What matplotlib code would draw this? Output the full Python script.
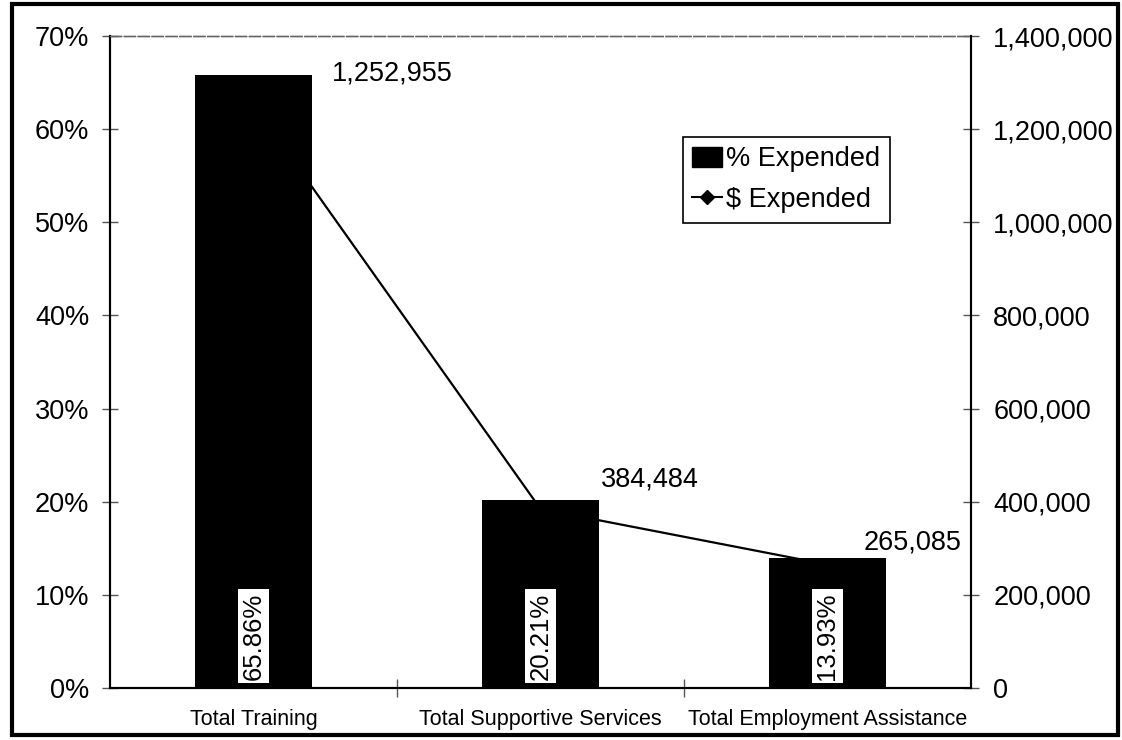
import matplotlib.pyplot as plt
import numpy as np
from matplotlib.font_manager import fontManager
from matplotlib.lines import Line2D
from matplotlib.patches import Patch, Rectangle
from matplotlib.ticker import FuncFormatter

# data
categories = ['Total Training', 'Total Supportive Services', 'Total Employment Assistance']
pct_expended = [65.86, 20.21, 13.93]
dollar_expended = [1252955, 384484, 265085]
pct_ticks = [0, 10, 20, 30, 40, 50, 60, 70]
dollar_ticks = [0, 200000, 400000, 600000, 800000, 1000000, 1200000, 1400000]

# label offsets (pixels) for the $ labels
label_offsets = [(78, 31), (60, 29), (36, 22)]

plt.rcParams['font.family'] = ['Liberation Sans', 'DejaVu Sans']
names = {f.name for f in fontManager.ttflist}
if 'Liberation Sans Narrow' in names:
    cat_font = dict(family=['Liberation Sans Narrow', 'Liberation Sans'], size=18)
else:
    cat_font = dict(family=['Liberation Sans', 'DejaVu Sans'], size=15.5)

W, H = 1122, 740
fig = plt.figure(figsize=(W / 100, H / 100), dpi=100)

# outer frame of the scanned figure
fig.patches.append(Rectangle((12 / W, 1 - 735 / H), (1118 - 12) / W, (735 - 4) / H,
                             transform=fig.transFigure, fill=False, edgecolor='black',
                             linewidth=3))

left, right, top, bottom = 110, 971, 36, 688
ax = fig.add_axes([left / W, 1 - bottom / H, (right - left) / W, (bottom - top) / H])
ax2 = ax.twinx()

x = np.arange(len(categories))

# line sits behind the bars
ax2.plot(x, dollar_expended, color='black', linewidth=1.6, marker='D', markersize=6, zorder=1)
ax.set_zorder(ax2.get_zorder() + 1)
ax.patch.set_visible(False)

ax.bar(x, pct_expended, width=0.41, color='black', zorder=2)

for xi, p in zip(x, pct_expended):
    ax.text(xi, 0.9, f'{p:.2f}%', rotation=90, ha='center', va='bottom', fontsize=18.5,
            color='black', zorder=3,
            bbox=dict(boxstyle='square,pad=0.12', facecolor='white', edgecolor='none'))

for xi, d, (dx, dy) in zip(x, dollar_expended, label_offsets):
    ax2.annotate(f'{d:,.0f}', (xi, d), xytext=(dx, dy), textcoords='offset pixels',
                 ha='left', va='center', fontsize=19.5)

ax.set_xlim(-0.5, len(categories) - 0.5)
ax.set_ylim(0, 70)
ax2.set_ylim(0, 1400000)

ax.set_yticks(pct_ticks)
ax.yaxis.set_major_formatter(FuncFormatter(lambda v, _: f'{v:.0f}%'))
ax2.set_yticks(dollar_ticks)
ax2.yaxis.set_major_formatter(FuncFormatter(lambda v, _: f'{v:,.0f}'))

ax.set_xticks(x)
ax.set_xticklabels(categories, **cat_font)
ax.set_xticks([0.5, 1.5], minor=True)
ax.tick_params(axis='x', which='major', length=0, pad=15)
ax.tick_params(axis='x', which='minor', direction='inout', length=13, width=1, color='#555555')
ax.tick_params(axis='y', direction='inout', length=12, width=1, color='#555555',
               labelsize=19.5, pad=9)
ax2.tick_params(axis='y', direction='inout', length=12, width=1, color='#555555',
                labelsize=19.5, pad=10)

for a in (ax, ax2):
    a.spines['top'].set_color('#666666')
    a.spines['top'].set_linestyle((0, (8, 2)))
    a.spines['top'].set_linewidth(1)
    a.spines['left'].set_linewidth(1.5)
    a.spines['right'].set_linewidth(1.5)
    a.spines['bottom'].set_linewidth(1.5)

handles = [Patch(facecolor='black', edgecolor='black'),
           Line2D([0], [0], color='black', linewidth=1.5, marker='D', markersize=7)]
leg = ax.legend(handles, ['% Expended', '$ Expended'], loc='upper left',
                bbox_to_anchor=(683 / W, 1 - 137 / H), bbox_transform=fig.transFigure,
                fontsize=19.5, frameon=True, fancybox=False, edgecolor='black',
                framealpha=1, handlelength=1.1, handleheight=0.8, handletextpad=0.15,
                borderpad=0.35, labelspacing=0.55, borderaxespad=0)
leg.get_frame().set_linewidth(1.2)

fig.savefig('out.png', dpi=100)
